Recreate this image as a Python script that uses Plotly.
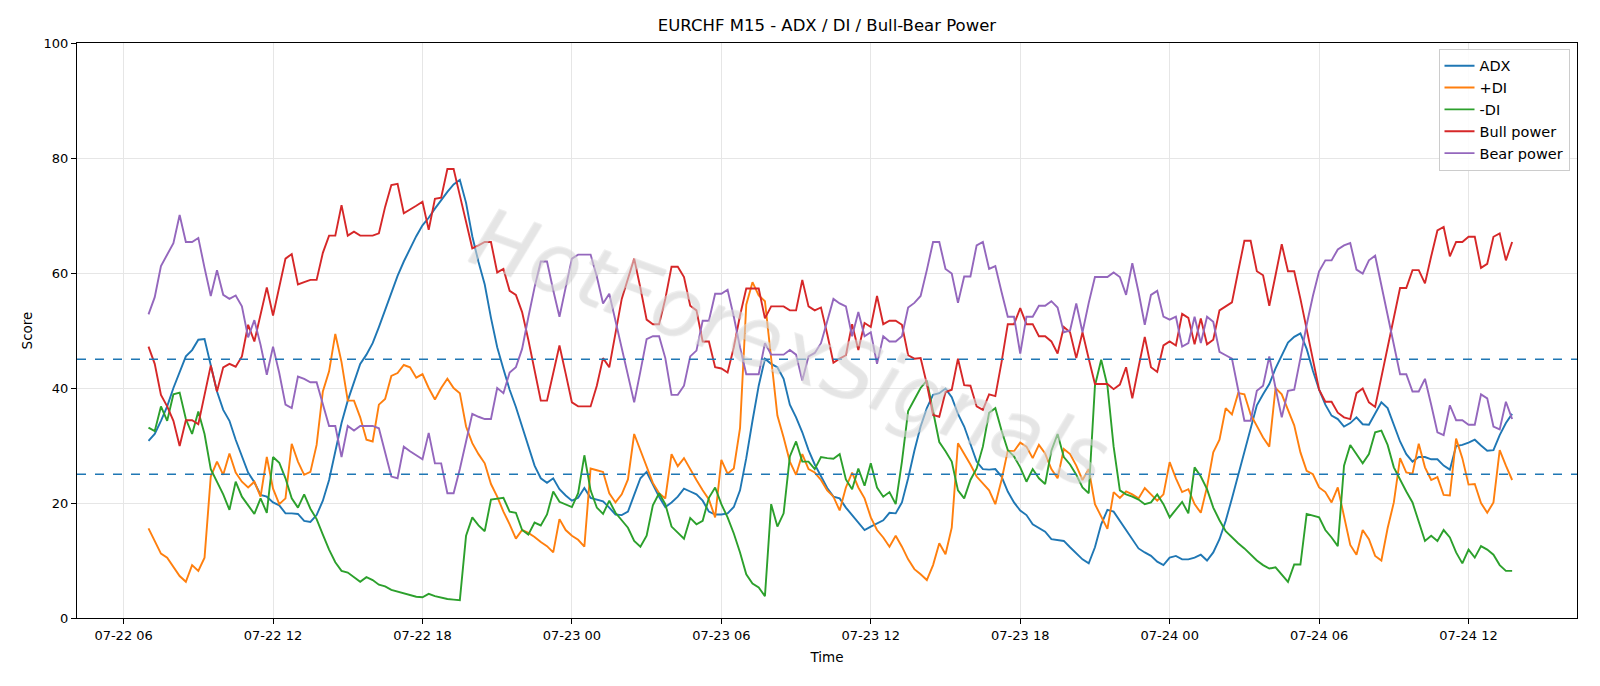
import pandas as pd
import plotly.graph_objects as go

start_time = "2025-07-22 07:00"
n_points = 220

adx = [30.8, 32.0, 34.3, 36.8, 40.0, 42.9, 45.5, 46.6, 48.4, 48.5,
       43.9, 39.4, 36.2, 34.3, 31.0, 28.1, 25.3, 23.6, 21.4, 21.1,
       20.1, 19.6, 18.2, 18.2, 18.1, 16.9, 16.7, 17.9, 20.4, 24.0,
       28.8, 33.9, 37.8, 41.0, 44.2, 45.8, 47.8, 50.6, 53.5, 56.5,
       59.5, 62.0, 64.3, 66.4, 68.3, 69.6, 71.2, 72.7, 74.1, 75.4,
       76.2, 72.2, 66.4, 61.9, 58.0, 52.2, 47.1, 43.3, 39.7, 36.7,
       33.3, 30.1, 26.5, 24.3, 23.5, 24.3, 22.4, 21.3, 20.4, 20.9,
       22.6, 20.9, 20.6, 20.3, 19.2, 18.0, 17.9, 18.5, 21.4, 24.3,
       25.4, 23.3, 21.1, 19.3, 20.1, 21.1, 22.5, 22.0, 21.5, 20.4,
       18.5, 18.0, 18.0, 18.2, 19.3, 22.2, 27.8, 34.3, 40.4, 45.1,
       44.2, 43.6, 41.6, 37.1, 34.9, 32.3, 29.2, 26.7, 24.6, 22.6,
       21.1, 20.8, 19.2, 17.9, 16.6, 15.3, 15.9, 16.4, 17.0, 18.3,
       18.2, 20.1, 24.3, 29.1, 33.3, 36.5, 38.8, 39.1, 39.9, 38.4,
       35.5, 33.3, 30.4, 27.2, 25.9, 25.8, 25.9, 24.6, 22.0, 20.1,
       18.7, 17.9, 16.3, 15.6, 15.0, 13.7, 13.6, 13.4, 12.3, 11.2,
       10.2, 9.5, 12.3, 16.3, 18.8, 18.5, 16.9, 15.3, 13.7, 12.1,
       11.4, 10.8, 9.8, 9.2, 10.5, 10.8, 10.2, 10.2, 10.5, 11.0,
       10.0, 11.4, 13.7, 16.9, 20.8, 24.9, 29.2, 33.3, 37.0, 38.9,
       40.7, 43.4, 45.8, 47.9, 48.9, 49.5, 46.8, 43.0, 39.7, 37.1,
       35.2, 34.6, 33.3, 33.9, 34.9, 33.7, 33.6, 35.5, 37.5, 36.5,
       33.6, 30.7, 28.5, 27.2, 28.0, 28.0, 27.6, 27.6, 26.5, 25.8,
       29.9, 30.1, 30.5, 31.0, 30.0, 29.1, 29.2, 31.8, 33.9, 35.5]

plus_di = [15.6, 13.4, 11.2, 10.5, 8.9, 7.3, 6.3, 9.2, 8.2, 10.5,
           24.6, 27.2, 24.9, 28.6, 25.3, 23.7, 22.7, 23.7, 21.1, 28.0,
           22.5, 19.8, 20.8, 30.3, 27.2, 24.9, 25.4, 30.1, 39.4, 42.9,
           49.4, 44.5, 37.8, 37.8, 34.9, 31.0, 30.7, 37.1, 38.1, 42.1,
           42.6, 44.0, 43.6, 41.8, 42.4, 40.0, 38.0, 40.0, 41.6, 40.0,
           39.1, 33.3, 30.4, 28.5, 26.9, 23.3, 21.1, 18.5, 16.3, 13.8,
           15.3, 14.8, 14.1, 13.2, 12.5, 11.4, 17.2, 15.3, 14.3, 13.6,
           12.4, 26.0, 25.7, 25.4, 21.7, 20.1, 21.5, 24.1, 32.0, 29.1,
           26.2, 23.5, 21.7, 20.8, 28.5, 26.4, 27.8, 25.8, 24.0, 22.2,
           20.6, 17.5, 27.5, 25.1, 26.0, 33.0, 54.5, 58.4, 56.1, 55.1,
           45.2, 35.2, 31.4, 27.2, 24.9, 28.5, 25.9, 25.3, 24.0, 22.2,
           21.1, 18.7, 22.7, 25.3, 22.7, 20.8, 17.5, 15.3, 14.0, 12.4,
           14.3, 12.4, 10.2, 8.5, 7.6, 6.6, 9.2, 13.0, 11.1, 15.7,
           30.4, 28.6, 26.7, 24.6, 23.3, 22.2, 19.8, 24.0, 29.1, 29.0,
           30.5, 29.8, 27.8, 30.1, 28.6, 25.9, 24.3, 29.4, 28.5, 26.5,
           24.0, 25.9, 19.8, 17.5, 15.5, 21.9, 20.9, 22.0, 21.5, 20.8,
           22.6, 21.5, 20.4, 21.5, 27.1, 24.3, 21.9, 22.4, 19.8, 18.3,
           22.8, 28.8, 31.0, 36.5, 35.4, 39.1, 38.9, 35.4, 33.3, 31.4,
           29.8, 40.0, 38.9, 36.2, 33.5, 28.8, 25.6, 25.0, 22.7, 21.9,
           20.1, 22.7, 17.5, 12.7, 11.0, 15.3, 13.7, 10.8, 10.0, 15.6,
           20.1, 27.8, 25.3, 25.1, 30.3, 26.2, 24.0, 24.5, 21.4, 21.3,
           31.2, 27.8, 23.2, 23.3, 20.0, 18.3, 20.1, 29.2, 26.5, 24.0]

minus_di = [33.1, 32.5, 36.8, 34.3, 38.9, 39.2, 34.6, 32.0, 35.9, 32.0,
            25.9, 23.7, 21.5, 18.8, 23.7, 21.1, 19.6, 18.1, 20.8, 18.3,
            28.0, 27.0, 24.3, 20.8, 19.2, 21.5, 19.0, 17.2, 14.5, 11.9,
            9.7, 8.2, 7.9, 7.1, 6.3, 7.1, 6.6, 5.8, 5.5, 4.9,
            4.6, 4.3, 4.0, 3.7, 3.6, 4.2, 3.8, 3.5, 3.3, 3.2,
            3.1, 14.3, 17.5, 16.1, 15.1, 20.6, 20.8, 20.9, 18.5, 18.3,
            15.3, 14.5, 16.6, 16.1, 18.0, 22.0, 20.2, 19.8, 19.3, 21.7,
            28.3, 22.2, 19.2, 18.1, 20.4, 18.3, 16.9, 15.7, 13.4, 12.4,
            14.3, 19.6, 21.7, 19.8, 15.9, 14.8, 13.8, 17.4, 16.3, 16.9,
            20.9, 22.7, 19.8, 17.5, 14.7, 11.4, 7.6, 6.0, 5.3, 3.8,
            19.8, 15.9, 18.2, 28.1, 30.7, 27.2, 27.2, 25.9, 28.0, 27.8,
            27.7, 28.5, 24.1, 22.4, 26.0, 23.0, 26.9, 22.7, 21.1, 21.9,
            19.8, 27.2, 36.0, 38.0, 40.0, 41.3, 35.7, 30.6, 29.0, 27.2,
            22.2, 20.8, 24.0, 26.0, 29.8, 35.7, 36.5, 32.6, 29.2, 28.1,
            26.2, 23.7, 25.9, 24.3, 23.3, 29.1, 32.0, 28.0, 26.7, 24.9,
            22.7, 21.7, 40.4, 44.9, 40.4, 29.8, 22.2, 21.5, 21.1, 20.6,
            19.8, 20.1, 21.5, 19.8, 17.5, 18.8, 20.2, 18.2, 26.2, 24.6,
            22.4, 19.2, 17.0, 15.1, 14.0, 13.0, 12.1, 11.0, 10.0, 9.2,
            8.6, 8.8, 7.5, 6.3, 9.3, 9.3, 18.1, 17.8, 17.5, 15.3,
            14.0, 12.5, 26.5, 30.1, 28.5, 26.9, 28.5, 32.3, 32.6, 30.1,
            26.2, 24.0, 22.0, 20.1, 16.9, 13.4, 14.3, 13.4, 15.3, 14.0,
            11.4, 9.5, 11.9, 10.5, 12.5, 11.9, 11.0, 9.2, 8.2, 8.2]

bull_power = [47.2, 44.2, 38.8, 36.8, 34.3, 29.9, 34.4, 34.4, 33.7, 38.8,
              43.9, 39.4, 43.6, 44.2, 43.7, 45.5, 51.0, 48.1, 52.9, 57.5,
              52.6, 57.7, 62.5, 63.3, 58.0, 58.4, 58.8, 58.8, 63.5, 66.5,
              66.5, 71.8, 66.5, 67.2, 66.5, 66.5, 66.5, 66.9, 71.5, 75.3,
              75.5, 70.4, 71.0, 71.7, 72.4, 67.5, 72.9, 73.1, 78.1, 78.1,
              73.5, 69.0, 64.3, 64.8, 65.4, 65.4, 60.1, 60.7, 56.9, 56.2,
              53.2, 48.4, 43.3, 37.8, 37.8, 42.5, 47.4, 42.5, 37.5, 36.8,
              36.8, 36.8, 40.4, 45.2, 43.6, 49.7, 55.5, 59.0, 62.5, 57.4,
              51.9, 51.1, 51.1, 55.5, 61.1, 61.1, 59.3, 54.3, 53.5, 48.1,
              48.1, 43.6, 43.4, 42.7, 47.1, 52.6, 57.3, 57.3, 57.3, 52.1,
              54.2, 54.2, 54.2, 53.5, 53.5, 58.8, 54.2, 53.5, 54.0, 49.4,
              44.4, 45.1, 45.7, 51.1, 46.6, 51.3, 50.6, 56.0, 51.1, 51.7,
              51.7, 51.0, 45.7, 45.1, 45.2, 40.7, 35.3, 35.0, 39.3, 39.7,
              45.1, 40.5, 40.4, 36.8, 36.2, 38.9, 38.6, 44.5, 51.1, 51.1,
              53.9, 51.1, 51.1, 49.0, 49.0, 48.1, 46.0, 50.6, 49.7, 45.2,
              49.7, 45.1, 40.7, 40.7, 40.7, 39.8, 40.6, 43.6, 38.2, 43.6,
              48.9, 43.6, 42.8, 47.4, 48.1, 47.4, 52.9, 52.2, 47.6, 52.1,
              47.6, 48.4, 53.5, 54.2, 54.9, 60.3, 65.6, 65.6, 60.3, 59.6,
              54.3, 59.6, 65.0, 60.3, 60.3, 55.5, 50.3, 44.8, 39.7, 37.6,
              37.6, 35.7, 34.9, 34.6, 39.1, 39.9, 37.5, 36.7, 42.0, 47.1,
              52.2, 57.4, 57.4, 60.5, 60.5, 58.2, 62.9, 67.4, 68.0, 62.9,
              65.4, 65.4, 66.3, 66.3, 60.9, 61.6, 66.3, 66.9, 62.2, 65.4]

bear_power = [52.8, 55.8, 61.2, 63.2, 65.2, 70.1, 65.4, 65.4, 66.1, 60.9,
              56.0, 60.5, 56.2, 55.5, 56.1, 54.2, 48.8, 51.8, 47.5, 42.3,
              47.2, 42.6, 37.1, 36.5, 42.0, 41.6, 41.0, 41.0, 37.1, 33.4,
              33.4, 28.0, 33.4, 32.6, 33.4, 33.4, 33.4, 33.0, 28.6, 24.6,
              24.3, 29.8, 29.0, 28.3, 27.6, 32.2, 26.9, 26.9, 21.7, 21.7,
              25.9, 30.7, 35.5, 35.0, 34.6, 34.6, 40.0, 39.1, 42.7, 43.6,
              46.8, 52.3, 57.5, 62.0, 62.0, 57.0, 52.4, 57.5, 62.5, 63.2,
              63.2, 63.2, 59.4, 54.7, 56.4, 51.6, 47.1, 42.3, 37.5, 42.9,
              48.5, 49.0, 49.0, 45.2, 38.8, 38.8, 40.4, 45.5, 46.5, 51.7,
              51.7, 56.4, 56.4, 57.1, 52.4, 47.1, 42.4, 42.4, 42.4, 47.8,
              45.8, 45.8, 45.8, 46.6, 45.8, 41.3, 45.5, 46.1, 47.8, 51.6,
              55.5, 54.7, 54.2, 49.0, 53.2, 49.0, 49.7, 44.2, 49.0, 48.1,
              48.1, 49.0, 54.0, 54.8, 56.0, 60.5, 65.4, 65.4, 60.7, 59.9,
              54.8, 59.4, 59.4, 64.8, 65.4, 60.7, 61.2, 56.7, 52.4, 52.4,
              46.0, 52.4, 52.4, 54.3, 54.3, 55.1, 54.0, 49.7, 50.0, 54.7,
              49.7, 54.8, 59.3, 59.3, 59.3, 60.1, 59.3, 56.2, 61.7, 56.7,
              51.0, 56.2, 56.9, 52.4, 51.9, 52.4, 47.2, 47.8, 52.4, 47.8,
              52.4, 51.5, 46.3, 45.7, 45.1, 39.7, 34.3, 34.3, 39.5, 40.4,
              45.5, 40.0, 34.9, 39.5, 39.7, 45.2, 51.0, 56.0, 60.3, 62.2,
              62.2, 64.1, 64.8, 65.2, 60.6, 59.9, 62.2, 63.0, 58.0, 52.9,
              47.8, 42.4, 42.4, 39.4, 39.4, 41.6, 37.1, 32.3, 31.8, 37.0,
              34.4, 34.4, 33.6, 33.6, 38.9, 38.2, 33.3, 32.8, 37.6, 34.6]

series_names = ["ADX", "+DI", "-DI", "Bull power", "Bear power"]
series_colors = ["#1f77b4", "#ff7f0e", "#2ca02c", "#d62728", "#9467bd"]
threshold_levels = [45, 25]
title_text = "EURCHF M15 - ADX / DI / Bull-Bear Power"
watermark_text = "HotForexSignals"

times = pd.date_range(start_time, periods=n_points, freq="15min")
span = times[-1] - times[0]
shift = pd.Timedelta(minutes=8)
x_range = [times[0] - span * 0.05 - shift, times[-1] + span * 0.05 - shift]

FONT = "DejaVu Sans, Liberation Sans, sans-serif"

fig = go.Figure()
for i, (name, color, vals) in enumerate(zip(series_names, series_colors,
                                            [adx, plus_di, minus_di, bull_power, bear_power])):
    fig.add_trace(go.Scatter(
        x=times, y=vals, mode="lines", name=name,
        line=dict(color=color, width=1.9),
        legendgroup=f"g{i}",
    ))

for lvl in threshold_levels:
    fig.add_shape(type="line", xref="paper", x0=0, x1=1, yref="y", y0=lvl, y1=lvl,
                  line=dict(color="#1f77b4", width=1.4, dash="dash"), layer="above")

fig.add_annotation(
    text=watermark_text, xref="paper", yref="paper", x=0.475, y=0.47,
    showarrow=False, textangle=20,
    font=dict(family=FONT, size=82, color="rgba(225,225,225,0.5)", style="italic",
              shadow="1px 1px 1px rgba(130,130,130,0.35)"),
)

fig.update_layout(
    width=1600, height=686,
    margin=dict(l=77, r=23, t=43, b=68),
    paper_bgcolor="white", plot_bgcolor="white",
    font=dict(family=FONT, size=13, color="black"),
    title=dict(text=title_text, x=0.5, xanchor="center", xref="paper",
               y=1 - 25 / 686, yanchor="middle", yref="container",
               font=dict(family=FONT, size=16.5, color="black")),
    showlegend=True,
    legend=dict(x=0.995, y=0.99, xanchor="right", yanchor="top",
                bgcolor="rgba(255,255,255,0.85)", bordercolor="#cccccc", borderwidth=1,
                font=dict(family=FONT, size=14.5), tracegroupgap=1,
                traceorder="normal"),
    xaxis=dict(
        range=x_range, type="date",
        tick0="2025-07-22 00:00", dtick=6 * 3600 * 1000, tickformat="%m-%d %H",
        showgrid=True, gridcolor="#e6e6e6", gridwidth=1,
        showline=True, mirror=True, linecolor="black", linewidth=1,
        ticks="outside", ticklen=5, tickcolor="black",
        tickfont=dict(family=FONT, size=13),
        title=dict(text="Time", standoff=10, font=dict(family=FONT, size=13.5)),
        zeroline=False,
    ),
    yaxis=dict(
        range=[0, 100], tick0=0, dtick=20,
        showgrid=True, gridcolor="#e6e6e6", gridwidth=1,
        showline=True, mirror=True, linecolor="black", linewidth=1,
        ticks="outside", ticklen=5, tickcolor="black",
        tickfont=dict(family=FONT, size=13),
        title=dict(text="Score", standoff=7, font=dict(family=FONT, size=13.5)),
        zeroline=False,
    ),
)

fig.write_html("out.html")
